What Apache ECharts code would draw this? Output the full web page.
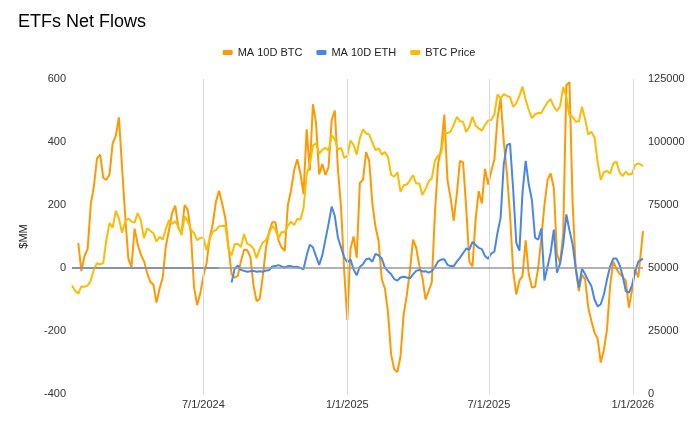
<!DOCTYPE html>
<html>
<head>
<meta charset="utf-8">
<script src="https://cdn.jsdelivr.net/npm/echarts@6/dist/echarts.min.js"></script>
<style>
  html, body { margin: 0; padding: 0; background: #fff; }
  #chart { width: 698px; height: 426px; }
</style>
</head>
<body>
<div id="chart"></div>
<script>
// sample dates (every 4 days)
const dates = [
  '2024-01-15','2024-01-19','2024-01-23','2024-01-27','2024-01-31','2024-02-04','2024-02-08','2024-02-12','2024-02-16','2024-02-20',
  '2024-02-24','2024-02-28','2024-03-03','2024-03-07','2024-03-11','2024-03-15','2024-03-19','2024-03-23','2024-03-27','2024-03-31',
  '2024-04-04','2024-04-08','2024-04-12','2024-04-16','2024-04-20','2024-04-24','2024-04-28','2024-05-02','2024-05-06','2024-05-10',
  '2024-05-14','2024-05-18','2024-05-22','2024-05-26','2024-05-30','2024-06-03','2024-06-07','2024-06-11','2024-06-15','2024-06-19',
  '2024-06-23','2024-06-27','2024-07-01','2024-07-05','2024-07-09','2024-07-13','2024-07-17','2024-07-21','2024-07-25','2024-07-29',
  '2024-08-02','2024-08-06','2024-08-10','2024-08-14','2024-08-18','2024-08-22','2024-08-26','2024-08-30','2024-09-03','2024-09-07',
  '2024-09-11','2024-09-15','2024-09-19','2024-09-23','2024-09-27','2024-10-01','2024-10-05','2024-10-09','2024-10-13','2024-10-17',
  '2024-10-21','2024-10-25','2024-10-29','2024-11-02','2024-11-06','2024-11-10','2024-11-14','2024-11-18','2024-11-22','2024-11-26',
  '2024-11-30','2024-12-04','2024-12-08','2024-12-12','2024-12-16','2024-12-20','2024-12-24','2024-12-28','2025-01-01','2025-01-05',
  '2025-01-09','2025-01-13','2025-01-17','2025-01-21','2025-01-25','2025-01-29','2025-02-02','2025-02-06','2025-02-10','2025-02-14',
  '2025-02-18','2025-02-22','2025-02-26','2025-03-02','2025-03-06','2025-03-10','2025-03-14','2025-03-18','2025-03-22','2025-03-26',
  '2025-03-30','2025-04-03','2025-04-07','2025-04-11','2025-04-15','2025-04-19','2025-04-23','2025-04-27','2025-05-01','2025-05-05',
  '2025-05-09','2025-05-13','2025-05-17','2025-05-21','2025-05-25','2025-05-29','2025-06-02','2025-06-06','2025-06-10','2025-06-14',
  '2025-06-18','2025-06-22','2025-06-26','2025-06-30','2025-07-04','2025-07-08','2025-07-12','2025-07-16','2025-07-20','2025-07-24',
  '2025-07-28','2025-08-01','2025-08-05','2025-08-09','2025-08-13','2025-08-17','2025-08-21','2025-08-25','2025-08-29','2025-09-02',
  '2025-09-06','2025-09-10','2025-09-14','2025-09-18','2025-09-22','2025-09-26','2025-09-30','2025-10-04','2025-10-08','2025-10-12',
  '2025-10-16','2025-10-20','2025-10-24','2025-10-28','2025-11-01','2025-11-05','2025-11-09','2025-11-13','2025-11-17','2025-11-21',
  '2025-11-25','2025-11-29','2025-12-03','2025-12-07','2025-12-11','2025-12-15','2025-12-19','2025-12-23','2025-12-27','2025-12-31',
  '2026-01-04','2026-01-08','2026-01-14'
];

// MA 10D BTC ($MM)
const btcFlow = [
  null, null, 80, -10, 38, 60, 202, 260, 348, 360,
  286, 280, 297, 396, 420, 478, 320, 165, 30, 3,
  125, 75, 43, 22, -15, -44, -52, -110, -65, -30,
  70, 120, 175, 198, 128, 110, 200, 185, 110, -60,
  -118, -80, -25, 15, 95, 140, 210, 245, 205, 158,
  70, -20, -31, -25, 22, 58, 57, 35, -55, -105,
  -98, -25, 65, 115, 145, 145, 88, 65, 55, 200,
  246, 310, 345, 300, 235, 440, 310, 520, 460, 297,
  330, 295, 320, 470, 500, 312, 192, -10, -165, 60,
  100, 33, 270, 280, 368, 340, 205, 130, 85, -35,
  -65, -140, -275, -322, -330, -280, -147, -87, -10, 90,
  65, 8, -30, -100, -73, -45, 175, 330, 380, 487,
  280, 222, 150, 235, 340, 335, 190, 20, 5, 155,
  244, 205, 315, 265, 307, 345, 475, 538, 402, 300,
  170, -10, -84, -40, -25, 88, -20, -62, -60, 0,
  95, 200, 280, 300, 254, 45, 15, 110, 580, 590,
  210, -5, -73, -22, -35, -125, -168, -205, -225, -300,
  -260, -195, -55, 20, -2, -18, -28, -40, -126, -70,
  -5, -30, 117
];

// MA 10D ETH ($MM)
const ethFlow = [
  0, 0, 0, 0, 0, 0, 0, 0, 0, 0,
  0, 0, 0, 0, 0, 0, 0, 0, 0, 0,
  0, 0, 0, 0, 0, 0, 0, 0, 0, 0,
  0, 0, 0, 0, 0, 0, 0, 0, 0, 0,
  0, 0, 0, 0, 0, 0, 0, 0, null, null,
  null, -46, -2, 8, -6, -9, -12, -10, -9, -12,
  -10, -12, -8, -7, 5, 6, 9, 5, 2, 6,
  6, 3, 4, 0, -4, 40, 74, 66, 37, 10,
  40, 90, 140, 195, 165, 96, 65, 34, 18, 28,
  -5, -23, 4, 12, 28, 30, 20, 45, 40, 30,
  1, -10, -20, -35, -40, -30, -28, -30, -33, -20,
  -9, -6, -11, -10, -15, -10, 3, 21, 27, 28,
  10, 6, 6, 20, 33, 47, 62, 58, 83, 73,
  64, 60, 38, 29, 46, 52, 112, 160, 330, 390,
  395, 250, 80, 55, 240, 340, 265, 215, 96, 90,
  125, -40, 5, 50, 122, -15, 14, 74, 170, 120,
  75, 0, -62, -2, -20, -40, -57, -100, -122, -115,
  -84, -36, 5, 30, 30, 10, -25, -73, -78, -55,
  -10, 20, 30
];

// BTC Price (USD)
const btcPrice = [
  43000, 41000, 39800, 42700, 42600, 43000, 45000, 49500, 51900, 51400,
  52000, 61300, 67800, 66000, 72700, 69700, 64000, 68500, 69700, 68400,
  68000, 71800, 69000, 61800, 65800, 64800, 63800, 60500, 62400, 61300,
  65500, 69000, 67500, 68500, 66300, 63100, 70500, 68500, 65300, 63800,
  61000, 62000, 62000, 57000, 61500, 64400, 65000, 66500, 66700, 66800,
  57500, 55000, 59500, 59500, 58300, 63500, 59600, 59100, 57700, 53900,
  57600, 60200, 61000, 63600, 66700, 65300, 61800, 64300, 64100, 66800,
  68400, 67000, 69500, 69200, 73700, 87000, 91200, 98500, 99500, 95400,
  97000, 97700, 96500, 102600, 101000, 97000, 97700, 93700, 94500, 100600,
  98800, 95000, 101500, 105000, 103400, 103000, 99800, 96800, 97500, 95000,
  96000, 94000, 87000, 86200, 88000, 80200, 82800, 83100, 84800, 86900,
  83600, 83500, 79000, 81400, 84300, 85600, 92500, 94500, 95500, 103800,
  103500, 104100, 106800, 110000, 108200, 108000, 104000, 106000, 110000, 106500,
  105400, 104500, 106800, 108500, 108700, 111000, 118900, 117300, 119000, 118300,
  117800, 114000, 115400, 118200, 122000, 116700, 112700, 109500, 111000, 111500,
  111500, 113800, 115800, 117000, 114000, 112300, 114200, 121800, 118000, 110500,
  110000, 108100, 108100, 114000, 109000, 103000, 104100, 101800, 92000, 85000,
  88000, 88500, 87500, 91500, 92200, 88000, 86500, 88200, 87000, 87400,
  90900, 91500, 90500
];

const seriesNames = ['MA 10D BTC', 'MA 10D ETH', 'BTC Price'];
const seriesColors = ['#FF9900', '#4A86E8', '#FBBC04'];
const gridDates = ['2024-07-01', '2025-01-01', '2025-07-01', '2026-01-01'];
const leftTicks = { min: -400, max: 600, interval: 200 };
const rightTicks = { min: 0, max: 125000, interval: 25000 };

const font = 'Liberation Sans, Arial, sans-serif';

function toTime(s) {
  const p = s.split('-');
  return new Date(+p[0], +p[1] - 1, +p[2]).getTime();
}
function pairs(vals) {
  return dates.map((d, i) => [toTime(d), vals[i]]);
}

var myChart = echarts.init(document.getElementById('chart'));
myChart.setOption({
  animation: false,
  textStyle: { fontFamily: font },
  title: {
    text: 'ETFs Net Flows',
    left: 18,
    top: 13,
    padding: 0,
    textStyle: { fontSize: 18, fontWeight: 'normal', color: '#000', fontFamily: font }
  },
  legend: {
    data: seriesNames,
    top: 47,
    left: 'center',
    padding: 0,
    icon: 'roundRect',
    itemWidth: 10,
    itemHeight: 5,
    itemGap: 14,
    textStyle: { fontSize: 11, color: '#222', fontFamily: font }
  },
  grid: { left: 72, right: 55, top: 79, bottom: 32, containLabel: false },
  xAxis: {
    // dates as timestamps on a value axis, labels only at chosen dates
    type: 'value',
    min: toTime(dates[0]),
    max: toTime(dates[dates.length - 1]),
    axisLine: { show: false },
    axisTick: { show: false },
    splitLine: { show: false },
    axisLabel: {
      customValues: gridDates.map(toTime),
      margin: 5,
      fontSize: 11,
      color: '#333',
      fontFamily: font,
      formatter: function (v) {
        const d = new Date(v);
        return (d.getMonth() + 1) + '/' + d.getDate() + '/' + d.getFullYear();
      }
    }
  },
  yAxis: [
    {
      type: 'value',
      min: leftTicks.min,
      max: leftTicks.max,
      interval: leftTicks.interval,
      name: '$MM',
      nameLocation: 'middle',
      nameGap: 43,
      nameTextStyle: { fontSize: 11, color: '#222', fontFamily: font },
      axisLine: { show: false },
      axisTick: { show: false },
      splitLine: { show: false },
      axisLabel: { fontSize: 11, color: '#333', margin: 6, fontFamily: font, formatter: v => String(v) }
    },
    {
      type: 'value',
      min: rightTicks.min,
      max: rightTicks.max,
      interval: rightTicks.interval,
      axisLine: { show: false },
      axisTick: { show: false },
      splitLine: { show: false },
      axisLabel: { fontSize: 11, color: '#333', margin: 5, fontFamily: font, formatter: v => String(v) }
    }
  ],
  series: [
    {
      // gridlines only
      type: 'line',
      data: [],
      silent: true,
      z: 1,
      markLine: {
        silent: true,
        symbol: 'none',
        label: { show: false },
        data: gridDates.map(d => ({
          xAxis: toTime(d),
          lineStyle: { color: '#d9d9d9', width: 1, type: 'solid' }
        })).concat([
          { yAxis: 0, lineStyle: { color: '#999', width: 1.5, type: 'solid' } }
        ])
      }
    },
    {
      name: seriesNames[0],
      type: 'line',
      yAxisIndex: 0,
      showSymbol: false,
      symbol: 'none',
      z: 2,
      color: seriesColors[0],
      lineStyle: { width: 2, color: seriesColors[0] },
      data: pairs(btcFlow)
    },
    {
      name: seriesNames[1],
      type: 'line',
      yAxisIndex: 0,
      showSymbol: false,
      symbol: 'none',
      z: 3,
      color: seriesColors[1],
      lineStyle: { width: 2, color: seriesColors[1] },
      data: pairs(ethFlow)
    },
    {
      name: seriesNames[2],
      type: 'line',
      yAxisIndex: 1,
      showSymbol: false,
      symbol: 'none',
      z: 4,
      color: seriesColors[2],
      lineStyle: { width: 2, color: seriesColors[2] },
      data: pairs(btcPrice)
    }
  ]
});
</script>
</body>
</html>
